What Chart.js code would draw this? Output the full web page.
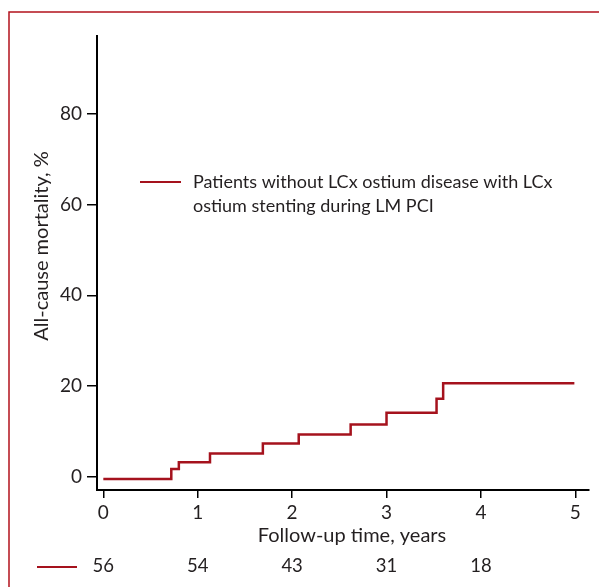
<!DOCTYPE html>
<html>
<head>
<meta charset="utf-8">
<script src="https://cdn.jsdelivr.net/npm/chart.js@4.4.1/dist/chart.umd.min.js"></script>
<style>
  html, body { margin: 0; padding: 0; background: #fff; }
  #wrap { width: 599px; height: 587px; position: relative; }
</style>
</head>
<body>
<div id="wrap"><canvas id="kmChart"></canvas></div>
<script>
// Kaplan-Meier steps
const years = [0, 0.72, 0.80, 1.13, 1.69, 2.07, 2.62, 3.00, 3.53, 3.60, 4.99];
const mortality = [-0.5, 1.7, 3.2, 5.1, 7.3, 9.3, 11.5, 14.1, 17.2, 20.6, 20.6];

const xTicks = [0, 1, 2, 3, 4, 5];
const yTicks = [0, 20, 40, 60, 80];

const riskYears = [0, 1, 2, 3, 4];
const atRisk = [56, 54, 43, 31, 18];

const legendLines = ['Patients without LCx ostium disease with LCx', 'ostium stenting during LM PCI'];

const RED = '#a5121d';
const TEXT = '#231f20';
const FONT = 'Lato';

// frame, inline legend, axis titles and number-at-risk row
const extras = {
  id: 'extras',
  beforeDraw(chart) {
    const ctx = chart.ctx;
    ctx.save();
    ctx.strokeStyle = '#b3121d';
    ctx.lineWidth = 1.5;
    ctx.beginPath();
    ctx.moveTo(9, 587);
    ctx.lineTo(9, 12);
    ctx.lineTo(599, 12);
    ctx.stroke();
    ctx.restore();
  },
  afterDraw(chart) {
    const ctx = chart.ctx;
    const x = chart.scales.x;
    ctx.save();

    // legend
    ctx.strokeStyle = RED;
    ctx.lineWidth = 2;
    ctx.beginPath();
    ctx.moveTo(140, 182);
    ctx.lineTo(181, 182);
    ctx.stroke();
    ctx.fillStyle = TEXT;
    ctx.font = '18px ' + FONT;
    ctx.textAlign = 'left';
    ctx.textBaseline = 'alphabetic';
    legendLines.forEach((t, i) => ctx.fillText(t, 193, 188 + i * 23.5));

    // axis titles
    ctx.font = '20px ' + FONT;
    ctx.textAlign = 'center';
    ctx.textBaseline = 'middle';
    ctx.fillText('Follow-up time, years', 352, 536);
    ctx.save();
    ctx.translate(42, 246);
    ctx.rotate(-Math.PI / 2);
    ctx.fillText('All-cause mortality, %', 0, 0);
    ctx.restore();

    // number at risk
    ctx.strokeStyle = RED;
    ctx.lineWidth = 2;
    ctx.beginPath();
    ctx.moveTo(37, 567);
    ctx.lineTo(77, 567);
    ctx.stroke();
    ctx.font = '18.5px ' + FONT;
    riskYears.forEach((t, i) => {
      ctx.fillText(String(atRisk[i]), x.getPixelForValue(t), 566);
    });
    ctx.restore();
  }
};

new Chart(document.getElementById('kmChart'), {
  type: 'line',
  data: {
    datasets: [{
      label: legendLines.join(' '),
      data: years.map((t, i) => ({ x: t, y: mortality[i] })),
      borderColor: RED,
      borderWidth: 2.5,
      stepped: true,
      pointRadius: 0,
      fill: false
    }]
  },
  options: {
    responsive: true,
    maintainAspectRatio: false,
    animation: false,
    layout: { padding: { top: 36, right: 10, left: 0, bottom: 0 } },
    plugins: {
      legend: { display: false },
      tooltip: { enabled: false }
    },
    scales: {
      x: {
        type: 'linear',
        min: -0.067,
        max: 5.145,
        afterBuildTicks: s => { s.ticks = xTicks.map(v => ({ value: v })); },
        afterFit: s => { s.height = 97; },
        grid: { display: true, drawOnChartArea: false, drawTicks: true, tickLength: 8, color: '#000', lineWidth: 1.5 },
        border: { display: true, color: '#000', width: 2 },
        ticks: { color: TEXT, font: { family: FONT, size: 19 }, padding: 3, maxRotation: 0 }
      },
      y: {
        min: -2.93,
        max: 97.2,
        afterBuildTicks: s => { s.ticks = yTicks.map(v => ({ value: v })); },
        afterFit: s => { s.width = 97; },
        grid: { display: true, drawOnChartArea: false, drawTicks: true, tickLength: 10, color: '#000', lineWidth: 1.5 },
        border: { display: true, color: '#000', width: 2 },
        ticks: { color: TEXT, font: { family: FONT, size: 19 }, padding: 5 }
      }
    }
  },
  plugins: [extras]
});
</script>
</body>
</html>
